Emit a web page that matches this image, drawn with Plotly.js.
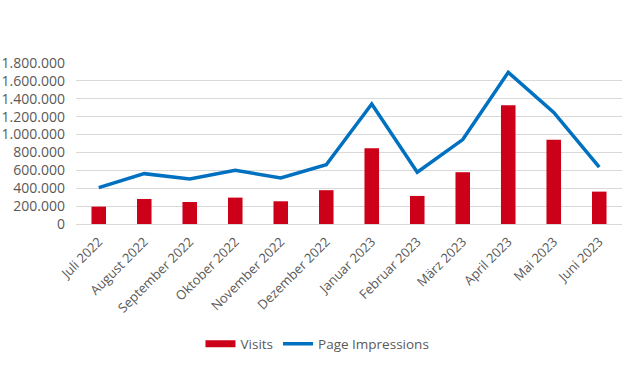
<!DOCTYPE html>
<html>
<head>
<meta charset="utf-8">
<script src="https://cdn.plot.ly/plotly-3.0.1.min.js"></script>
<style>html,body{margin:0;padding:0;background:#fff;}#chart{width:630px;height:370px;}</style>
</head>
<body>
<div id="chart"></div>
<script>
const months = ["Juli 2022","August 2022","September 2022","Oktober 2022","November 2022","Dezember 2022","Januar 2023","Februar 2023","März 2023","April 2023","Mai 2023","Juni 2023"];
const visits = [194000, 280000, 246000, 295000, 254000, 378000, 848000, 314000, 579000, 1329000, 941000, 362000];
const pageImpressions = [407000, 563000, 504000, 601000, 515000, 662000, 1341000, 579000, 944000, 1695000, 1247000, 635000];
const yTicks = [0,200000,400000,600000,800000,1000000,1200000,1400000,1600000,1800000];

const traces = [
  {type:"bar", name:"Visits", x:months, y:visits, marker:{color:"#CC0019"}, width:0.32, showlegend:false},
  {type:"scatter", mode:"lines", name:"Visits", x:[null], y:[null], line:{color:"#CC0019", width:7}, showlegend:true, hoverinfo:"skip"},
  {type:"scatter", mode:"lines", name:"Page Impressions", x:months, y:pageImpressions, line:{color:"#0070C0", width:3.5}}
];
const layout = {
  width:630, height:370,
  margin:{l:76, r:8, t:63, b:146},
  separators:",.",
  paper_bgcolor:"#fff", plot_bgcolor:"#fff",
  font:{family:"Open Sans, Liberation Sans, sans-serif", size:13, color:"#595959"},
  showlegend:true,
  legend:{orientation:"h", x:0.228, xanchor:"left", y:-0.745, yanchor:"middle", font:{size:13.5, color:"#595959"}, traceorder:"normal", itemwidth:30},
  xaxis:{type:"category", tickangle:-45, showgrid:false, showline:true, linecolor:"#D9D9D9", ticks:"", ticklabelstandoff:4, tickfont:{size:13, color:"#595959"}},
  yaxis:{range:[0,1800000], tickvals:yTicks, tickformat:",d", showgrid:true, gridcolor:"#D9D9D9", gridwidth:1, zeroline:false, showline:false, ticks:"", ticklabelstandoff:10, tickfont:{size:14, color:"#595959"}},
  bargap:0.68
};
Plotly.newPlot("chart", traces, layout, {displayModeBar:false, staticPlot:true});
</script>
</body>
</html>
